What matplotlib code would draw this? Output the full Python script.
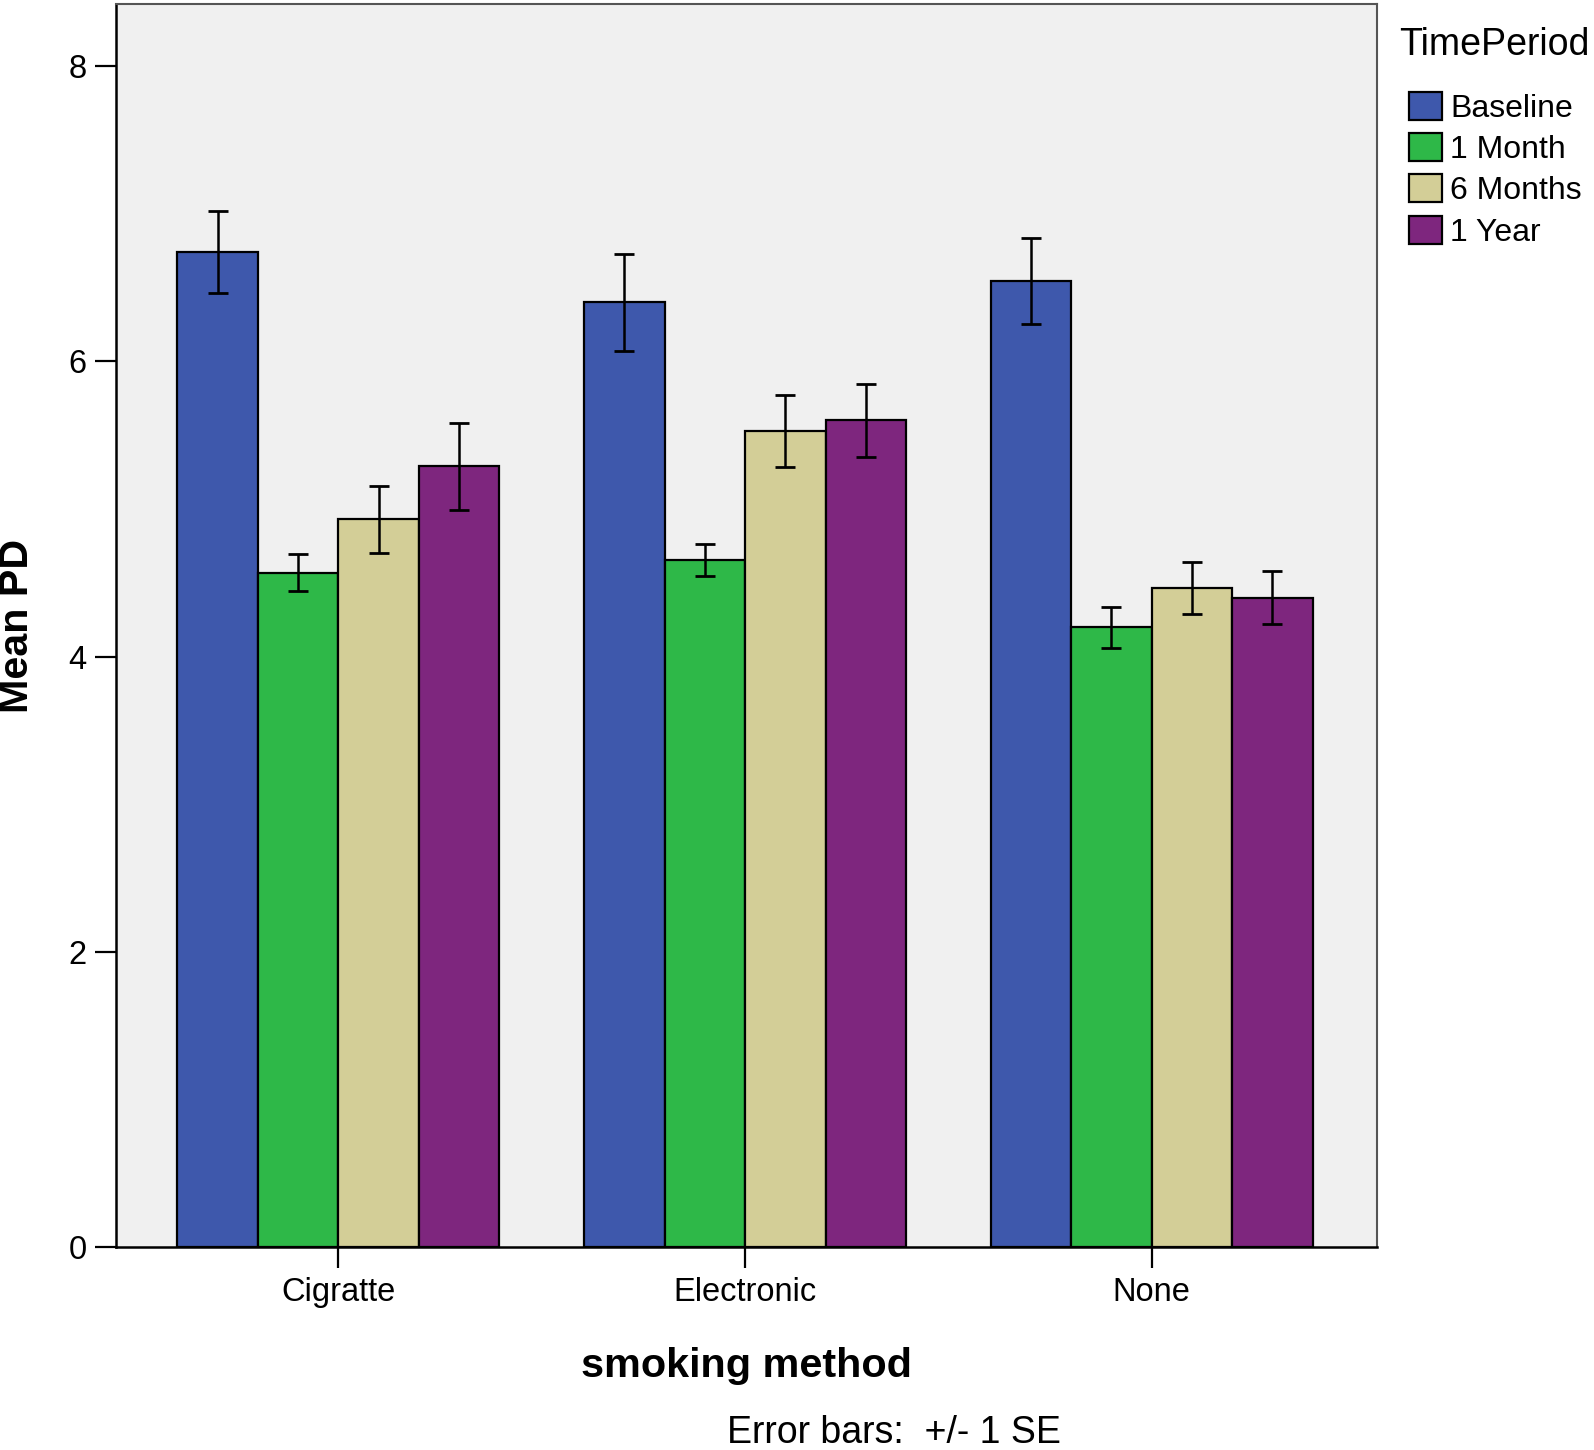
import matplotlib
matplotlib.use("Agg")
import matplotlib.pyplot as plt
import numpy as np

plt.rcParams['font.family'] = ['Liberation Sans', 'DejaVu Sans']

categories = ["Cigratte", "Electronic", "None"]
series_names = ["Baseline", "1 Month", "6 Months", "1 Year"]
baseline = [6.74, 6.40, 6.545]
month1 = [4.57, 4.655, 4.20]
months6 = [4.93, 5.53, 4.467]
year1 = [5.29, 5.60, 4.40]
baseline_se = [0.28, 0.33, 0.29]
month1_se = [0.125, 0.108, 0.14]
months6_se = [0.225, 0.245, 0.175]
year1_se = [0.295, 0.245, 0.18]
yticks = [0, 2, 4, 6, 8]

values = [baseline, month1, months6, year1]
errors = [baseline_se, month1_se, months6_se, year1_se]
colors = ["#3E58AC", "#2EB848", "#D3CE97", "#7E267E"]

W, H = 1594, 1450
fig = plt.figure(figsize=(W / 100, H / 100), dpi=100)
ax = fig.add_axes([116 / W, 1 - 1247.4 / H, (1377 - 116) / W, (1247.4 - 4) / H])
ax.set_facecolor("#F0F0F0")

x = np.arange(len(categories))
w = 0.198
handles = []
for i, (vals, errs, col, name) in enumerate(zip(values, errors, colors, series_names)):
    pos = x + (i - 1.5) * w
    b = ax.bar(pos, vals, width=w, color=col, edgecolor="black", linewidth=1.6,
               label=name, zorder=2)
    ax.errorbar(pos, vals, yerr=errs, fmt="none", ecolor="black", elinewidth=1.8,
                capsize=7.5, capthick=2.0, zorder=3)
    handles.append(b)

ax.set_xlim(-0.547, 2.554)
ax.set_ylim(0, 8.42)
ax.set_yticks(yticks)
ax.set_yticklabels([str(t) for t in yticks])
ax.set_xticks(x)
ax.set_xticklabels(categories)
ax.tick_params(axis="both", which="major", labelsize=23.5, length=15, width=1.6,
               direction="out", pad=6, colors="black")

for s in ["left", "bottom"]:
    ax.spines[s].set_linewidth(1.8)
    ax.spines[s].set_color("black")
for s in ["top", "right"]:
    ax.spines[s].set_linewidth(1.5)
    ax.spines[s].set_color("#555555")

fig.text(17 / W, 1 - 626 / H, "Mean PD", fontsize=29.7, fontweight="bold",
         rotation=90, ha="center", va="center")

fig.text(746.5 / W, 1 - 1377 / H, "smoking method", fontsize=29.8, fontweight="bold",
         ha="center", va="baseline")
fig.text(894 / W, 1 - 1443 / H, "Error bars:  +/- 1 SE", fontsize=27,
         ha="center", va="baseline")

fig.text(1399 / W, 1 - 55 / H, "TimePeriod", fontsize=27, ha="left", va="baseline")
fig.legend(handles=handles, labels=series_names, loc="upper left",
           bbox_to_anchor=(1409 / W, 1 - 92 / H), frameon=False, fontsize=23,
           borderpad=0, borderaxespad=0, handlelength=1.03, handleheight=0.97,
           handletextpad=0.25, labelspacing=0.29)

fig.savefig("out.png", dpi=100, facecolor="white")
